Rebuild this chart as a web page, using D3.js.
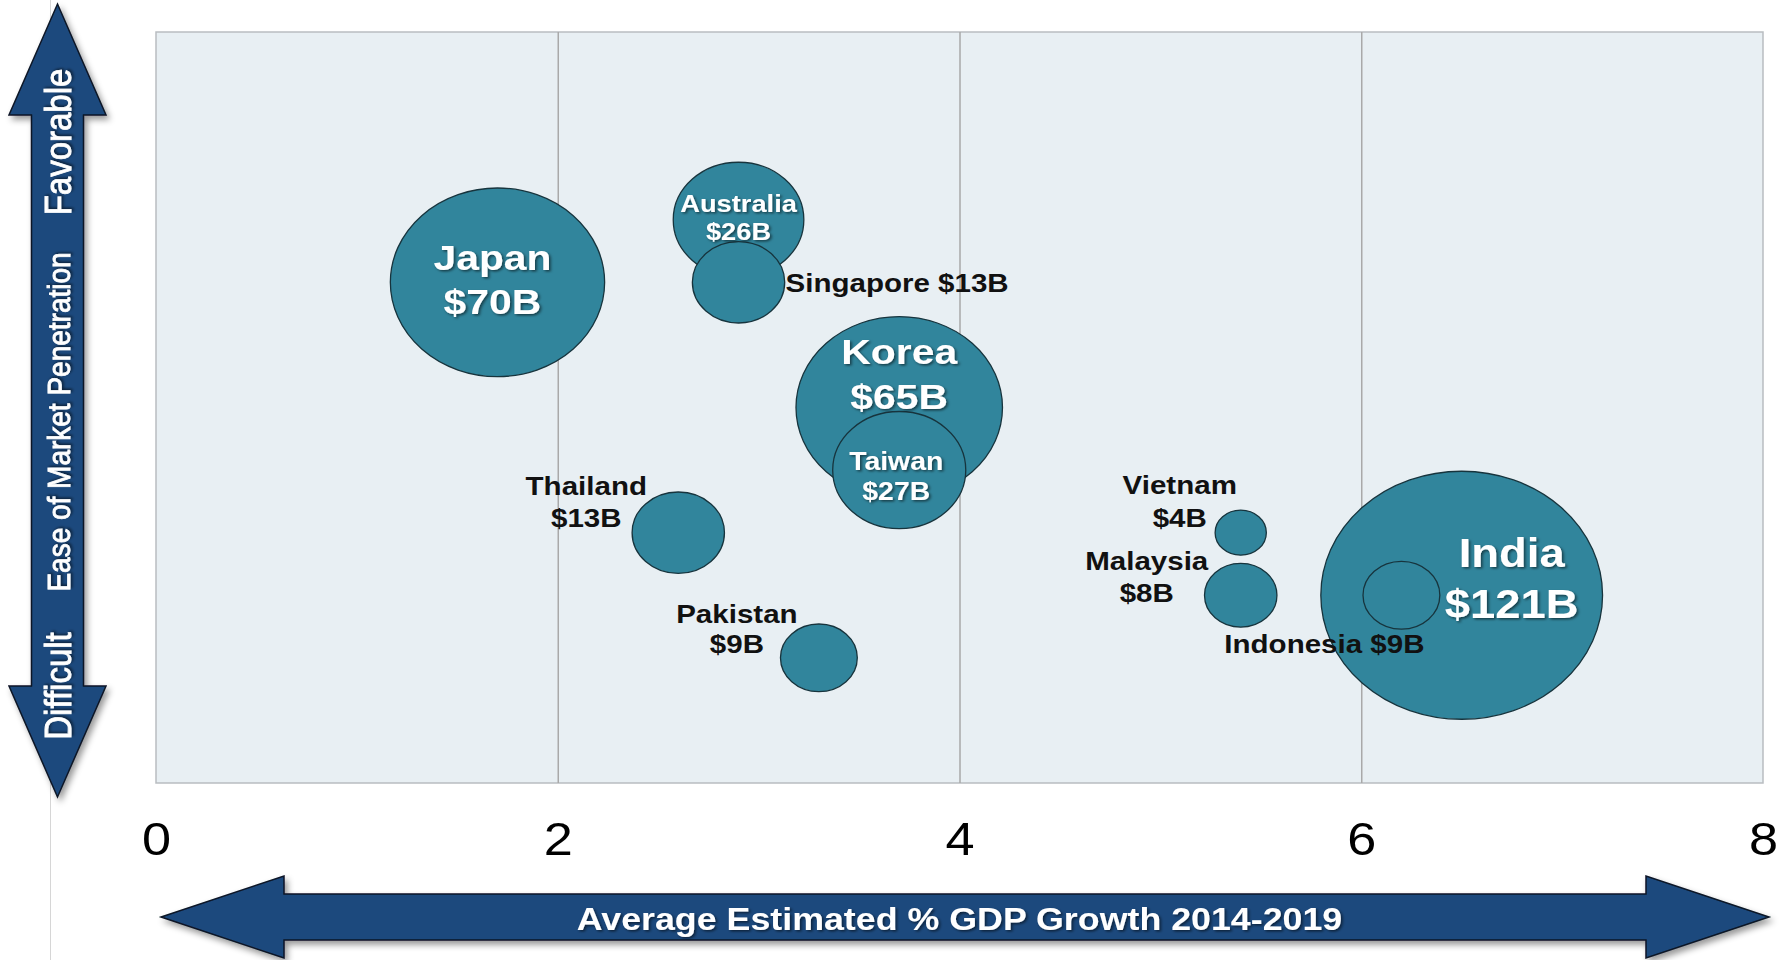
<!DOCTYPE html>
<html>
<head>
<meta charset="utf-8">
<script src="https://cdn.jsdelivr.net/npm/d3@7"></script>
<style>
  body { margin: 0; background: #fff; }
  svg { display: block; }
</style>
</head>
<body>
<script>
// data
const countries  = ["Japan", "Australia", "Singapore", "Korea", "Taiwan", "Thailand", "Pakistan", "Vietnam", "Malaysia", "India", "Indonesia"];
const gdpGrowth  = [1.7, 2.9, 2.9, 3.7, 3.7, 2.6, 3.3, 5.4, 5.4, 6.5, 6.2];   // avg est. % GDP growth 2014-2019
const easeScore  = [8, 9, 8, 6, 5, 4, 2, 4, 3, 3, 3];                        // ease of market penetration
const marketSize = [70, 26, 13, 65, 27, 13, 9, 4, 8, 121, 9];                // $B
const xTicks = [0, 2, 4, 6, 8];
const yDomain = [0, 12];

const data = countries.map((name, i) => ({
  name, x: gdpGrowth[i], y: easeScore[i], size: marketSize[i]
}));

// the original slide was stretched horizontally, so text and bubbles are too
const SX = 1.136;
const font = "'Liberation Sans', Arial, sans-serif";

// where each label sits, relative to its bubble centre
const labelLayout = {
  Japan:     { inside: true,  size: 36, dx: -5,  dy: [-12, 32] },
  Australia: { inside: true,  size: 24, dx: 0,   dy: [-8, 20] },
  Singapore: { inside: false, size: 26, dx: 47,  dy: [10], anchor: "start", oneLine: true },
  Korea:     { inside: true,  size: 36, dx: 0,   dy: [-44, 1] },
  Taiwan:    { inside: true,  size: 25, dx: -3,  dy: [0, 30] },
  Thailand:  { inside: false, size: 26, dx: -92, dy: [-38, -6] },
  Pakistan:  { inside: false, size: 26, dx: -82, dy: [-35, -5] },
  Vietnam:   { inside: false, size: 26, dx: -61, dy: [-39, -6] },
  Malaysia:  { inside: false, size: 26, dx: -94, dy: [-25, 7] },
  India:     { inside: true,  size: 40, dx: 50,  dy: [-28, 23] },
  Indonesia: { inside: false, size: 26, dx: -77, dy: [58], oneLine: true }
};

const width = 1789, height = 960;
const plot = { left: 156, right: 1763, top: 32, bottom: 783 };

const svg = d3.select("body").append("svg")
  .attr("width", width)
  .attr("height", height);

const defs = svg.append("defs");
defs.append("filter").attr("id", "arrowShadow")
  .attr("x", "-10%").attr("y", "-10%").attr("width", "130%").attr("height", "130%")
  .append("feDropShadow")
  .attr("dx", 3).attr("dy", 4).attr("stdDeviation", 3)
  .attr("flood-color", "#000").attr("flood-opacity", 0.4);
defs.append("filter").attr("id", "textShadow")
  .append("feDropShadow")
  .attr("dx", 1.5).attr("dy", 1.5).attr("stdDeviation", 1.2)
  .attr("flood-color", "#000").attr("flood-opacity", 0.55);

// thin slide edge line on the left
svg.append("line")
  .attr("x1", 50.5).attr("x2", 50.5).attr("y1", 0).attr("y2", height)
  .attr("stroke", "#d6d6d6").attr("stroke-width", 1);

const x = d3.scaleLinear().domain([xTicks[0], xTicks[xTicks.length - 1]]).range([plot.left, plot.right]);
const y = d3.scaleLinear().domain(yDomain).range([plot.bottom, plot.top]);
const ry = d3.scaleSqrt().domain([0, d3.max(marketSize)]).range([0, 124]);

// plot area
svg.append("rect")
  .attr("x", plot.left).attr("y", plot.top)
  .attr("width", plot.right - plot.left).attr("height", plot.bottom - plot.top)
  .attr("fill", "#e8eff3")
  .attr("stroke", "#b9bdc1").attr("stroke-width", 1.5);

// vertical gridlines
svg.append("g")
  .attr("transform", `translate(0,${plot.bottom})`)
  .call(d3.axisBottom(x).tickValues(xTicks.slice(1, -1)).tickSize(-(plot.bottom - plot.top)).tickFormat(""))
  .call(g => g.select(".domain").remove())
  .call(g => g.selectAll(".tick line").attr("stroke", "#a9a9a9").attr("stroke-width", 1.5));

// tick labels
svg.append("g")
  .attr("transform", `translate(0,${plot.bottom})`)
  .call(d3.axisBottom(x).tickValues(xTicks).tickSize(0).tickFormat(d3.format("d")))
  .call(g => g.select(".domain").remove())
  .call(g => g.selectAll(".tick text")
    .attr("y", 72).attr("dy", 0)
    .attr("transform", `scale(${SX},1)`)
    .attr("fill", "#000")
    .style("font", `46px ${font}`));

// bubbles
svg.append("g")
  .selectAll("ellipse")
  .data(data)
  .join("ellipse")
  .attr("cx", d => x(d.x))
  .attr("cy", d => y(d.y))
  .attr("rx", d => ry(d.size) * SX)
  .attr("ry", d => ry(d.size))
  .attr("fill", "#31859c")
  .attr("stroke", "#17343d")
  .attr("stroke-width", 1.3);

// bubble labels
const labels = [];
data.forEach(d => {
  const L = labelLayout[d.name];
  const value = `$${d.size}B`;
  const lines = L.oneLine ? [`${d.name} ${value}`] : [d.name, value];
  lines.forEach((t, i) => labels.push({
    text: t, x: x(d.x) + L.dx, y: y(d.y) + L.dy[i],
    size: L.size, inside: L.inside, anchor: L.anchor || "middle"
  }));
});

svg.append("g")
  .selectAll("text")
  .data(labels)
  .join("text")
  .attr("transform", d => `translate(${d.x},${d.y}) scale(${SX},1)`)
  .attr("text-anchor", d => d.anchor)
  .attr("fill", d => d.inside ? "#fff" : "#111")
  .attr("filter", d => d.inside ? "url(#textShadow)" : null)
  .style("font-family", font)
  .style("font-weight", "bold")
  .style("font-size", d => d.size + "px")
  .text(d => d.text);

// double-headed arrows
const arrowLine = d3.line().curve(d3.curveLinearClosed);

function vArrow(cx, top, bottom, headLen, headHalf, shaftHalf) {
  return [
    [cx, top], [cx + headHalf, top + headLen], [cx + shaftHalf, top + headLen],
    [cx + shaftHalf, bottom - headLen], [cx + headHalf, bottom - headLen], [cx, bottom],
    [cx - headHalf, bottom - headLen], [cx - shaftHalf, bottom - headLen],
    [cx - shaftHalf, top + headLen], [cx - headHalf, top + headLen]
  ];
}
function hArrow(cy, left, right, headLen, headHalf, shaftHalf) {
  return vArrow(cy, left, right, headLen, headHalf, shaftHalf).map(([a, b]) => [b, a]);
}

svg.append("path")
  .attr("d", arrowLine(vArrow(57.5, 4, 797, 111, 48.5, 26)))
  .attr("fill", "#1f497d").attr("stroke", "#0b1626").attr("stroke-width", 1.5)
  .attr("filter", "url(#arrowShadow)");

svg.append("path")
  .attr("d", arrowLine(hArrow(917, 161, 1769, 123, 41, 23)))
  .attr("fill", "#1f497d").attr("stroke", "#0b1626").attr("stroke-width", 1.5)
  .attr("filter", "url(#arrowShadow)");

// y arrow texts
const yTexts = [
  { text: "Favorable", y: 142, size: 33 },
  { text: "Ease of Market Penetration", y: 422, size: 28 },
  { text: "Difficult", y: 686, size: 33 }
];
svg.append("g")
  .selectAll("text")
  .data(yTexts)
  .join("text")
  .attr("transform", d => `translate(${d.size > 30 ? 71 : 70},${d.y}) scale(${SX},1) rotate(-90)`)
  .attr("text-anchor", "middle")
  .attr("fill", "#fff")
  .attr("stroke", "#fff")
  .attr("stroke-width", 0.7)
  .attr("filter", "url(#textShadow)")
  .style("font-family", font)
  .style("font-size", d => d.size + "px")
  .text(d => d.text);

// x arrow title
svg.append("text")
  .attr("transform", `translate(${(plot.left + plot.right) / 2},930) scale(${SX},1)`)
  .attr("text-anchor", "middle")
  .attr("fill", "#fff")
  .attr("filter", "url(#textShadow)")
  .style("font-family", font)
  .style("font-weight", "bold")
  .style("font-size", "31.5px")
  .text("Average Estimated % GDP Growth 2014-2019");
</script>
</body>
</html>
